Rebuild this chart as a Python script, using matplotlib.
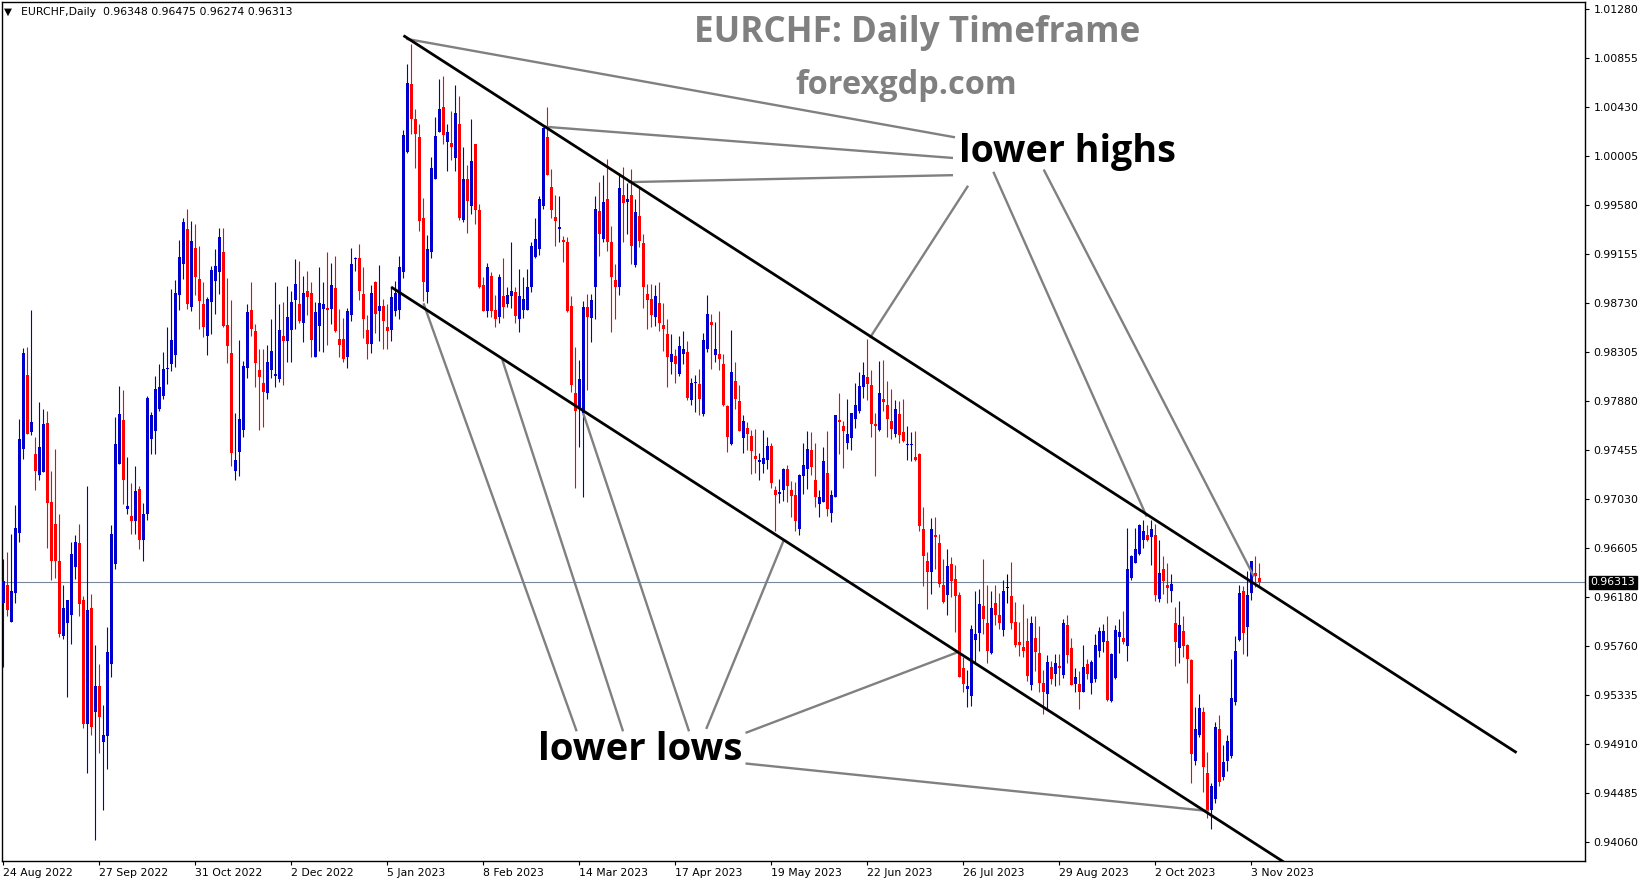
#!/usr/bin/env python3
# EURCHF daily chart (MT4 look) with descending channel and notes
import matplotlib
matplotlib.use('Agg')
import matplotlib.pyplot as plt

# --- candles (index 0 = 24 Aug 2022) ---
opens = [
    .9613, .9629, .9597, .9622, .9674, .9747, .9811, .9761, .9742, .9724,
    .9727, .9769, .9701, .9682, .9650, .9585, .9596, .9603, .9644, .9665,
    .9616, .9508, .9609, .9519, .9541, .9493, .9498, .9560, .9647, .9734,
    .9772, .9695, .9689, .9684, .9712, .9668, .9690, .9755, .9762, .9781,
    .9793, .9816, .9820, .9828, .9880, .9907, .9937, .9870, .9921, .9894,
    .9872, .9845, .9874, .9892, .9900, .9917, .9854, .9830, .9728, .9744,
    .9763, .9817, .9867, .9849, .9815, .9804, .9795, .9815, .9810, .9807,
    .9845, .9840, .9850, .9876, .9872, .9856, .9884, .9882, .9826, .9853,
    .9868, .9869, .9868, .9886, .9842, .9842, .9826, .9863, .9911, .9912,
    .9881, .9850, .9838, .9891, .9866, .9871, .9852, .9850, .9866, .9867,
    .9900, 1.0004, 1.0063, 1.0033, 1.0017, .9947, .9883, .9917, .9981, 1.0021,
    1.0043, 1.0013, 1.0012, .9999, 1.0028, .9945, .9981, .9957, 1.0011, .9954,
    .9889, .9866, .9897, .9867, .9861, .9879, .9872, .9879, .9883, .9859,
    .9867, .9867, .9887, .9913, .9920, .9957, 1.0017, .9974, .9948, .9937,
    .9928, .9926, .9871, .9795, .9782, .9778, .9870, .9860, .9887, .9953,
    .9929, .9963, .9926, .9893, .9887, .9967, .9961, .9967, .9906, .9949,
    .9925, .9881, .9877, .9861, .9873, .9854, .9846, .9822, .9827, .9812,
    .9829, .9831, .9789, .9804, .9803, .9777, .9833, .9857, .9828, .9829,
    .9820, .9784, .9751, .9806, .9788, .9756, .9765, .9758, .9741, .9735,
    .9734, .9737, .9749, .9711, .9708, .9711, .9729, .9711, .9707, .9677,
    .9723, .9729, .9746, .9720, .9699, .9701, .9726, .9691, .9705, .9772,
    .9767, .9752, .9756, .9773, .9780, .9800, .9809, .9802, .9768, .9763,
    .9790, .9785, .9771, .9760, .9777, .9761, .9750, .9750, .9740, .9742,
    .9677, .9650, .9640, .9672, .9665, .9629, .9620, .9647, .9634, .9620,
    .9557, .9539, .9533, .9581, .9587, .9611, .9596, .9570, .9613, .9603,
    .9590, .9626, .9619, .9597, .9579, .9575, .9580, .9542, .9583, .9570,
    .9544, .9534, .9558, .9552, .9559, .9551, .9594, .9574, .9543, .9543,
    .9536, .9560, .9544, .9547, .9572, .9579, .9580, .9528, .9548, .9584,
    .9583, .9576, .9635, .9648, .9656, .9668, .9672, .9670, .9672, .9617,
    .9643, .9629, .9624, .9596, .9574, .9589, .9577, .9564, .9476, .9499,
    .9519, .9466, .9434, .9443, .9504, .9462, .9476, .9481, .9527, .9581,
    .9624, .9592, .9622, .9639, .96348]
highs = [
    .9651, .9657, .9673, .9698, .9773, .9834, .9835, .9867, .9757, .9787,
    .9781, .9780, .9728, .9747, .9690, .9629, .9616, .9666, .9672, .9682,
    .9619, .9715, .9621, .9577, .9560, .9525, .9592, .9681, .9774, .9801,
    .9798, .9740, .9717, .9732, .9715, .9700, .9793, .9779, .9810, .9820,
    .9831, .9852, .9885, .9893, .9928, .9947, .9955, .9944, .9942, .9923,
    .9891, .9878, .9905, .9920, .9938, .9938, .9895, .9876, .9778, .9841,
    .9823, .9872, .9891, .9855, .9833, .9833, .9837, .9859, .9891, .9872,
    .9874, .9888, .9884, .9911, .9910, .9897, .9901, .9891, .9874, .9904,
    .9891, .9917, .9908, .9914, .9868, .9860, .9869, .9921, .9913, .9924,
    .9904, .9863, .9889, .9892, .9906, .9877, .9872, .9886, .9892, .9914,
    1.0023, 1.0080, 1.0098, 1.0041, 1.0028, .9964, .9932, 1.0000, 1.0034, 1.0067,
    1.0070, 1.0028, 1.0040, 1.0062, 1.0053, 1.0008, .9993, 1.0033, 1.0011, .9959,
    .9896, .9908, .9900, .9880, .9898, .9912, .9887, .9926, .9887, .9903,
    .9896, .9903, .9926, .9947, .9966, 1.0026, 1.0043, .9989, .9967, .9966,
    .9931, .9930, .9879, .9835, .9824, .9875, .9881, .9881, .9966, .9978,
    .9984, .9998, .9940, .9907, .9986, .9991, .9977, .9989, .9963, .9973,
    .9933, .9890, .9890, .9889, .9891, .9873, .9859, .9846, .9833, .9845,
    .9849, .9840, .9808, .9811, .9816, .9847, .9880, .9864, .9857, .9866,
    .9829, .9785, .9850, .9822, .9802, .9776, .9770, .9763, .9764, .9743,
    .9763, .9757, .9752, .9715, .9721, .9730, .9733, .9719, .9718, .9725,
    .9752, .9762, .9761, .9752, .9711, .9748, .9762, .9711, .9776, .9795,
    .9771, .9790, .9778, .9804, .9813, .9822, .9842, .9815, .9778, .9823,
    .9824, .9806, .9799, .9789, .9788, .9790, .9767, .9761, .9762, .9743,
    .9696, .9657, .9687, .9688, .9673, .9651, .9660, .9653, .9646, .9623,
    .9566, .9555, .9594, .9624, .9625, .9651, .9629, .9624, .9629, .9622,
    .9633, .9638, .9649, .9614, .9597, .9612, .9600, .9602, .9602, .9593,
    .9555, .9568, .9563, .9569, .9569, .9599, .9603, .9583, .9557, .9554,
    .9577, .9565, .9564, .9586, .9592, .9595, .9602, .9570, .9594, .9599,
    .9606, .9678, .9655, .9678, .9682, .9685, .9681, .9685, .9682, .9668,
    .9654, .9648, .9638, .9610, .9615, .9602, .9578, .9565, .9523, .9534,
    .9523, .9484, .9457, .9510, .9516, .9490, .9499, .9565, .9585, .9629,
    .9628, .9641, .9650, .9654, .96475]
lows = [
    .9558, .9602, .9597, .9613, .9666, .9738, .9760, .9759, .9711, .9720,
    .9727, .9661, .9633, .9635, .9584, .9582, .9532, .9578, .9634, .9602,
    .9505, .9466, .9499, .9408, .9483, .9434, .9469, .9549, .9643, .9734,
    .9699, .9690, .9673, .9673, .9660, .9650, .9685, .9742, .9742, .9780,
    .9790, .9803, .9814, .9818, .9867, .9894, .9868, .9866, .9880, .9851,
    .9844, .9828, .9846, .9864, .9881, .9852, .9821, .9732, .9720, .9723,
    .9757, .9808, .9845, .9800, .9763, .9766, .9790, .9808, .9800, .9805,
    .9802, .9822, .9822, .9851, .9856, .9839, .9863, .9826, .9826, .9832,
    .9831, .9837, .9855, .9848, .9826, .9822, .9817, .9858, .9901, .9876,
    .9843, .9825, .9830, .9847, .9840, .9833, .9833, .9840, .9862, .9859,
    .9895, 1.0003, 1.0020, .9990, .9936, .9875, .9873, .9912, .9981, 1.0021,
    1.0011, .9988, .9997, .9988, .9945, .9943, .9934, .9950, .9942, .9886,
    .9866, .9861, .9861, .9852, .9856, .9860, .9870, .9869, .9856, .9848,
    .9860, .9867, .9883, .9912, .9915, .9955, .9984, .9947, .9923, .9926,
    .9909, .9865, .9796, .9713, .9748, .9705, .9798, .9839, .9859, .9914,
    .9926, .9918, .9848, .9859, .9880, .9926, .9933, .9907, .9904, .9922,
    .9869, .9851, .9852, .9853, .9849, .9832, .9800, .9812, .9804, .9810,
    .9820, .9789, .9785, .9779, .9776, .9775, .9831, .9816, .9822, .9815,
    .9784, .9744, .9750, .9781, .9762, .9743, .9746, .9725, .9726, .9720,
    .9726, .9729, .9713, .9676, .9700, .9702, .9701, .9688, .9676, .9672,
    .9708, .9712, .9724, .9696, .9688, .9701, .9689, .9683, .9705, .9742,
    .9730, .9747, .9746, .9765, .9778, .9791, .9789, .9757, .9723, .9762,
    .9780, .9757, .9755, .9757, .9752, .9753, .9737, .9736, .9736, .9676,
    .9628, .9608, .9621, .9643, .9627, .9613, .9603, .9618, .9588, .9549,
    .9536, .9523, .9524, .9561, .9572, .9586, .9561, .9569, .9594, .9591,
    .9585, .9613, .9591, .9575, .9567, .9566, .9546, .9538, .9554, .9536,
    .9517, .9521, .9543, .9541, .9542, .9548, .9561, .9542, .9536, .9521,
    .9536, .9547, .9534, .9545, .9566, .9571, .9528, .9527, .9547, .9570,
    .9578, .9563, .9633, .9648, .9655, .9661, .9667, .9646, .9615, .9614,
    .9621, .9613, .9614, .9559, .9561, .9566, .9544, .9457, .9473, .9497,
    .9449, .9427, .9417, .9440, .9455, .9460, .9468, .9479, .9525, .9580,
    .9569, .9567, .9616, .9627, .96274]
closes = [
    .9632, .9607, .9624, .9678, .9755, .9830, .9760, .9770, .9728, .9748,
    .9768, .9700, .9650, .9650, .9586, .9609, .9616, .9656, .9666, .9612,
    .9508, .9607, .9506, .9541, .9514, .9499, .9571, .9673, .9751, .9777,
    .9720, .9697, .9684, .9710, .9668, .9690, .9791, .9776, .9799, .9800,
    .9816, .9817, .9841, .9882, .9913, .9943, .9872, .9927, .9896, .9875,
    .9852, .9877, .9902, .9905, .9930, .9853, .9836, .9743, .9737, .9773,
    .9819, .9865, .9851, .9821, .9809, .9796, .9822, .9832, .9812, .9850,
    .9840, .9861, .9874, .9890, .9858, .9882, .9878, .9841, .9865, .9873,
    .9872, .9867, .9889, .9849, .9837, .9825, .9866, .9907, .9912, .9884,
    .9859, .9838, .9882, .9864, .9871, .9858, .9849, .9878, .9882, .9904,
    1.0019, 1.0064, 1.0033, 1.0020, .9944, .9891, .9920, .9990, 1.0018, 1.0041,
    1.0019, 1.0021, 1.0008, 1.0038, .9947, .9981, .9962, .9996, .9954, .9887,
    .9866, .9904, .9866, .9859, .9896, .9870, .9880, .9884, .9862, .9879,
    .9877, .9887, .9923, .9929, .9963, 1.0025, .9984, .9954, .9944, .9939,
    .9926, .9866, .9802, .9780, .9807, .9870, .9861, .9876, .9955, .9933,
    .9961, .9926, .9896, .9887, .9973, .9960, .9963, .9923, .9952, .9927,
    .9887, .9876, .9863, .9879, .9856, .9851, .9826, .9829, .9820, .9836,
    .9833, .9791, .9804, .9805, .9790, .9841, .9864, .9854, .9833, .9825,
    .9785, .9757, .9813, .9790, .9762, .9771, .9760, .9745, .9738, .9737,
    .9739, .9749, .9717, .9707, .9709, .9729, .9715, .9706, .9684, .9724,
    .9733, .9747, .9731, .9705, .9705, .9736, .9695, .9707, .9776, .9770,
    .9762, .9760, .9778, .9785, .9801, .9811, .9803, .9768, .9767, .9795,
    .9787, .9773, .9764, .9781, .9759, .9754, .9751, .9751, .9737, .9680,
    .9654, .9640, .9677, .9670, .9630, .9614, .9645, .9632, .9619, .9549,
    .9543, .9541, .9591, .9586, .9612, .9599, .9572, .9609, .9603, .9596,
    .9624, .9626, .9596, .9577, .9577, .9572, .9550, .9596, .9571, .9544,
    .9536, .9562, .9547, .9561, .9557, .9596, .9568, .9542, .9549, .9536,
    .9558, .9552, .9562, .9577, .9589, .9589, .9529, .9569, .9590, .9588,
    .9579, .9643, .9654, .9660, .9681, .9676, .9668, .9677, .9620, .9639,
    .9632, .9626, .9630, .9579, .9594, .9576, .9565, .9482, .9504, .9522,
    .9471, .9433, .9455, .9506, .9458, .9475, .9494, .9531, .9572, .9622,
    .9587, .9620, .9650, .9637, .96313]

date_index = [0, 24, 48, 72, 96, 120, 144, 168, 192, 216, 240, 264, 288, 312]
date_labels = ['24 Aug 2022', '27 Sep 2022', '31 Oct 2022', '2 Dec 2022',
               '5 Jan 2023', '8 Feb 2023', '14 Mar 2023', '17 Apr 2023',
               '19 May 2023', '22 Jun 2023', '26 Jul 2023', '29 Aug 2023',
               '2 Oct 2023', '3 Nov 2023']
price_ticks = [1.01280, 1.00855, 1.00430, 1.00005, 0.99580, 0.99155, 0.98730,
               0.98305, 0.97880, 0.97455, 0.97030, 0.96605, 0.96180, 0.95760,
               0.95335, 0.94910, 0.94485, 0.94060]
last_price = 0.96313

# channel (bar index, price)
upper_line = [(100.0, 1.0105), (378.3, 0.94835)]
lower_line = [(96.9, 0.98871), (320.5, 0.93878)]
# grey pointer lines
highs_lines = [((101.0, 1.0102), (237.6, 1.0017)),
               ((135.3, 1.0026), (237.1, 0.9999)),
               ((156.5, 0.9978), (237.1, 0.9984)),
               ((216.8, 0.9844), (241.0, 0.9974)),
               ((247.6, 0.9986), (285.7, 0.9689)),
               ((260.2, 0.9988), (312.5, 0.9637))]
lows_lines = [((105.1, 0.9872), (143.2, 0.9503)),
              ((124.8, 0.9823), (154.8, 0.9503)),
              ((145.0, 0.9777), (171.3, 0.9503)),
              ((195.0, 0.9667), (175.8, 0.9505)),
              ((238.9, 0.9571), (185.8, 0.9501)),
              ((301.0, 0.9433), (185.8, 0.9474))]

# --- figure ---
W, H = 1649, 884
fig = plt.figure(figsize=(W/100, H/100), dpi=100)
ax = fig.add_axes([2.5/W, (H-861)/H, (1585-2.5)/W, (861-2)/H])
ax.set_xlim(-0.25, 395.4)
ax.set_ylim(0.93896, 1.01341)

ax.axhline(last_price, color='#778899', lw=0.8, zorder=1)

x = list(range(len(opens)))
cols = []
for o, c in zip(opens, closes):
    if c > o:
        cols.append('#0000cd')
    elif c < o:
        cols.append('#ff0000')
    else:
        cols.append('black')
ax.vlines(x, lows, highs, colors=cols, lw=0.8, zorder=2)
bottoms = [min(o, c) for o, c in zip(opens, closes)]
heights = [max(abs(c - o), 0.00009) for o, c in zip(opens, closes)]
ax.bar(x, heights, width=0.75, bottom=bottoms, color=cols, lw=0, zorder=3)

# trend lines
for ln in (upper_line, lower_line):
    ax.plot([p[0] for p in ln], [p[1] for p in ln], color='black', lw=2.0,
            zorder=5, solid_capstyle='butt')
for a, b in highs_lines + lows_lines:
    ax.plot([a[0], b[0]], [a[1], b[1]], color='#808080', lw=1.7, zorder=4)

# axes look
for s in ax.spines.values():
    s.set_color('black')
    s.set_linewidth(1)
ax.yaxis.tick_right()
ax.set_yticks(price_ticks)
ax.set_yticklabels(['%.5f' % p for p in price_ticks])
ax.tick_params(axis='y', direction='out', length=3, width=0.8, pad=3,
               labelsize=7.8, colors='black')
ax.set_xticks(date_index)
ax.set_xticklabels(date_labels, ha='left')
ax.tick_params(axis='x', direction='out', length=3, width=0.8, pad=2,
               labelsize=7.8, colors='black')

# current price box
ax.annotate('%.5f' % last_price, xy=(1, last_price),
            xycoords=('axes fraction', 'data'), xytext=(4, 0),
            textcoords='offset points', va='center', ha='left',
            fontsize=7.8, color='white',
            bbox=dict(boxstyle='square,pad=0.15', fc='black', ec='black'))

# header
fig.text(4/W, 1-12/H, '\u25bc', fontsize=7.5, va='center')
fig.text(21/W, 1-12/H, 'EURCHF,Daily  0.96348 0.96475 0.96274 0.96313',
         fontsize=7.8, va='center')


# big notes, scaled to the width seen in the picture
def fit_text(xp, yp, s, target_w, **kw):
    t = fig.text(xp/W, 1-yp/H, s, fontsize=20, va='center', **kw)
    w = t.get_window_extent(renderer=fig.canvas.get_renderer()).width
    t.set_fontsize(20*target_w/w)
    return t


fit_text(917, 33, 'EURCHF: Daily Timeframe', 447, ha='center',
         color='#808080', family='Open Sans', weight='bold')
fit_text(906, 85, 'forexgdp.com', 222, ha='center',
         color='#808080', family='Open Sans', weight='bold')
fit_text(959, 152, 'lower highs', 216, ha='left', color='black',
         family='Open Sans', weight='bold')
fit_text(538, 750, 'lower lows', 204, ha='left', color='black',
         family='Open Sans', weight='bold')

fig.savefig('out.png', dpi=100)
